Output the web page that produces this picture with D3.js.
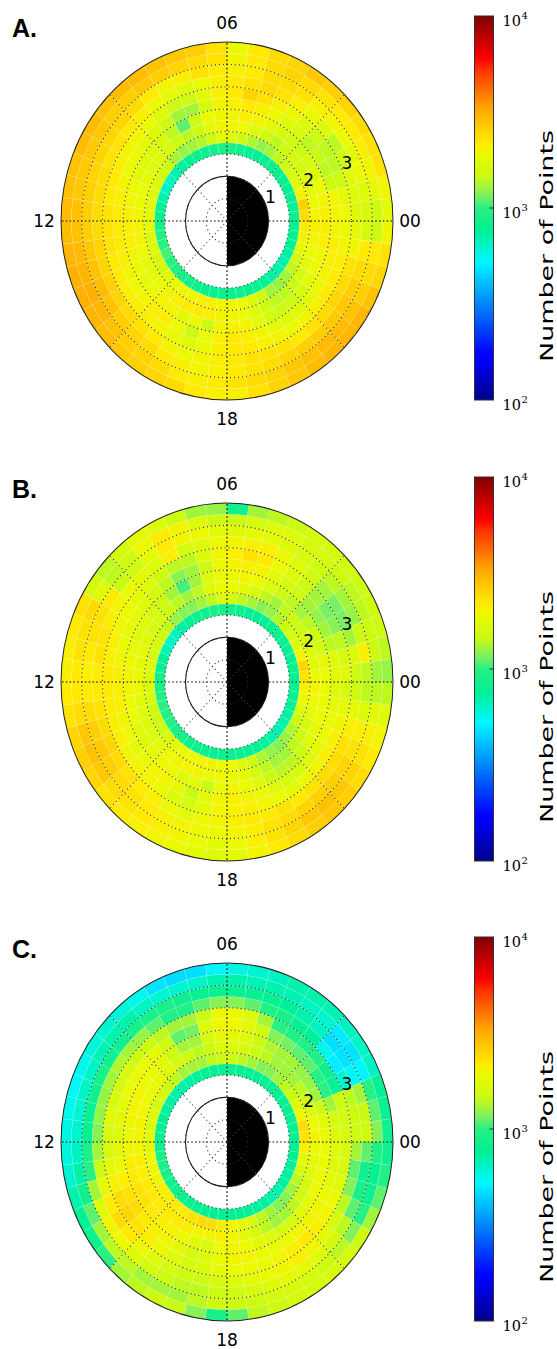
<!DOCTYPE html>
<html>
<head>
<meta charset="utf-8">
<style>
  body { margin: 0; background: #fff; }
  svg text { font-family: "DejaVu Sans", sans-serif; fill: #000; }
</style>
</head>
<body>
<svg id="chart" width="557" height="1349"></svg>
<script src="https://cdnjs.cloudflare.com/ajax/libs/d3/7.8.5/d3.min.js"></script>
<script>
// bins: 0.5 h of MLT, 0.25 Re in radius
const mltEdges = d3.range(0, 24.01, 0.5);
const radEdges = [1.5, 1.75, 2.0, 2.25, 2.5, 2.75, 3.0, 3.25, 3.5, 3.75, 4.0];
const mltTicks = [0, 6, 12, 18];
const mltLabels = ["00", "06", "12", "18"];
const radTicks = [1, 2, 3];
const gridRadii = [0.5, 1, 1.5, 2, 2.5, 3, 3.5];
const cbarExp = [2, 3, 4];

// counts per cell, one array per ring (inner -> outer), 48 MLT sectors starting at 00 MLT
const aRing0 = [820,800,800,780,800,820,820,800,780,760,850,900,900,880,850,820,780,740,700,650,640,700,780,820,880,950,1000,1050,1000,950,900,880,860,820,800,800,800,820,800,780,760,720,700,700,720,760,800,820];
const aRing1 = [2400,2600,2100,1700,1600,1500,1400,1300,1250,1350,1500,1700,1800,1500,1350,1300,1250,1300,1500,1600,1700,1700,1800,1800,1800,1700,1700,1600,1600,1700,1900,2000,2000,2100,2100,2000,2000,1900,1700,1500,1300,1250,1300,1400,1600,1800,2000,2200];
const aRing2 = [2000,1900,1800,1700,1600,1600,1500,1400,1500,1700,1900,2000,2000,1800,1500,1400,1500,1600,1700,1700,1800,1900,1900,2000,2000,2000,1900,1800,1800,1900,2000,2100,2200,2200,2100,2000,2000,1900,1700,1500,1400,1400,1500,1600,1800,1900,2000,2100];
const aRing3 = [2100,2000,1900,1700,1600,1500,1500,1600,1800,2000,2100,2000,2000,1900,1500,1100,1400,1600,1700,1700,1800,1900,2000,2100,2100,2100,2000,1900,1800,1900,2000,2000,1800,1900,1500,2000,2100,2000,1800,1600,1500,1500,1600,1800,1900,2000,2100,2100];
const aRing4 = [2000,2000,1500,1400,1450,1400,1600,1700,1900,2100,2200,2100,2000,1600,1300,1300,1500,1700,1800,1900,1900,2000,2100,2200,2200,2200,2100,2000,1900,2000,2100,2100,1900,1500,1900,2100,2200,2100,2000,1800,1700,1700,1800,1900,2000,2100,2100,2000];
const aRing5 = [1900,1800,1500,1400,1400,1500,1700,1900,2100,2300,2500,2200,2100,1800,1500,1500,1700,1900,2000,2000,2100,2200,2200,2300,2300,2300,2200,2200,2100,2100,2100,2000,1800,1700,1900,2100,2200,2200,2100,2000,1900,2000,2100,2200,2200,2100,2000,1900];
const aRing6 = [1700,1700,1700,1500,1400,1700,1900,2100,2300,2400,2300,2200,2100,1900,1700,1800,1900,2100,2200,2300,2300,2400,2400,2400,2400,2500,2500,2600,2500,2400,2300,2200,2000,1900,2000,2100,2200,2300,2300,2300,2200,2300,2400,2500,2400,2300,2000,1800];
const aRing7 = [1600,1700,1900,1800,1900,2000,2100,2300,2400,2400,2200,2100,2200,2300,2100,2000,2200,2400,2500,2500,2500,2500,2600,2600,2600,2700,2800,2900,2800,2600,2500,2400,2200,2100,2000,2100,2200,2300,2400,2500,2600,2600,2700,2700,2600,2400,2200,1600];
const aRing8 = [1500,1800,2000,2100,2200,2200,2300,2400,2500,2400,2200,2000,2300,2400,2500,2600,2700,2600,2600,2700,2700,2700,2700,2800,2800,2900,3000,3100,3000,2800,2600,2500,2400,2200,2100,2200,2300,2400,2500,2700,2800,2900,2900,2800,2600,2400,2200,1500];
const aRing9 = [1800,2000,2300,2300,2400,2500,2600,2700,2500,2400,2200,1900,2300,2600,2700,2800,2900,2900,2800,2900,2900,2800,2800,2900,2900,3000,3100,3100,3000,2900,2700,2600,2500,2400,2200,2100,2100,2300,2500,2700,2900,3000,3000,3000,2800,2500,2300,2000];

const bRing0 = [820,800,800,780,800,820,800,780,760,760,820,880,900,880,850,820,780,720,660,640,680,740,800,840,900,960,1000,980,950,900,880,860,840,820,800,800,800,800,780,760,740,700,690,700,720,760,800,820];
const bRing1 = [2300,2500,2000,1700,1600,1500,1350,1250,1200,1300,1400,1600,1700,1400,1300,1200,1200,1250,1400,1500,1600,1600,1700,1700,1700,1600,1500,1500,1500,1600,1800,1900,1900,2000,2000,1900,1900,1700,1500,1350,1250,1200,1250,1350,1500,1700,1900,2100];
const bRing2 = [1900,1800,1700,1600,1500,1500,1400,1300,1400,1600,1800,1900,1900,1700,1400,1300,1400,1500,1600,1600,1700,1800,1800,1900,1900,1800,1700,1700,1700,1800,1900,2000,2000,2000,1900,1900,1900,1800,1600,1400,1300,1300,1400,1500,1600,1800,1900,2000];
const bRing3 = [1900,1800,1600,1500,1400,1300,1400,1500,1700,1900,2000,1900,1900,1700,1300,1050,1300,1500,1600,1700,1700,1800,1900,2000,2000,1900,1900,1800,1700,1800,1900,1900,1700,1800,1450,1900,2000,1900,1700,1500,1400,1400,1500,1700,1800,1900,1900,1900];
const bRing4 = [1800,1700,1400,1300,1250,1300,1500,1600,1800,2000,2100,2000,1900,1500,1300,1200,1400,1600,1700,1800,1800,1900,2000,2100,2100,2100,2000,1900,1800,1900,2000,2000,1800,1450,1800,2000,2100,2000,1900,1700,1600,1600,1700,1800,1900,1900,1800,1700];
const bRing5 = [1700,1600,1400,1200,1150,1300,1500,1700,1900,2200,2300,2100,2000,1700,1400,1400,1500,1700,1800,1900,2000,2100,2100,2200,2200,2200,2100,2100,2000,2000,2000,1900,1700,1600,1800,2000,2100,2100,2000,1900,1800,1900,2000,2100,2100,2000,1800,1600];
const bRing6 = [1500,1700,1300,1150,1150,1300,1500,1700,1900,2100,2100,2000,1900,1700,1600,2100,1700,1800,1900,2000,2100,2300,2300,2200,2200,2300,2400,2500,2400,2300,2200,2100,1900,1800,1900,2000,2100,2200,2200,2300,2200,2300,2400,2400,2300,2100,1800,1500];
const bRing7 = [1400,2100,1500,1250,1300,1400,1500,1600,1700,1800,1800,1700,1800,1900,2000,2200,1800,1500,1500,2200,2300,2300,2200,2100,2200,2400,2600,2700,2600,2400,2300,2200,2100,2000,1900,1900,2000,2100,2300,2400,2500,2600,2600,2500,2300,2100,1700,1400];
const bRing8 = [1300,1500,1500,1400,1400,1500,1600,1600,1700,1700,1600,1500,1500,1700,2000,2200,1900,1500,1400,1700,2400,2300,2300,2200,2200,2400,2700,2800,2700,2400,2300,2200,2100,2000,1900,1800,1900,2100,2300,2500,2700,2800,2700,2500,2300,2100,1800,1400];
const bRing9 = [1250,1400,1500,1500,1500,1550,1600,1600,1500,1400,1300,850,1250,1300,1500,1700,1800,1600,1400,1600,2300,2200,2100,2100,2200,2300,2500,2600,2500,2300,2200,2100,2000,1900,1800,1700,1800,2000,2200,2400,2600,2700,2600,2400,2200,2000,1700,1400];

const cRing0 = [800,800,780,780,780,800,800,780,760,760,780,800,800,780,760,740,720,700,700,720,740,760,780,800,850,900,900,880,860,840,820,800,800,780,780,780,780,760,760,740,720,700,700,720,740,760,780,800];
const cRing1 = [2300,2400,2000,1700,1500,1400,1300,1200,1200,1300,1400,1500,1500,1400,1300,1300,1300,1400,1500,1600,1600,1700,1700,1800,1800,1900,2000,2000,2100,2100,2200,2200,2300,2400,2400,2100,2000,1800,1600,1400,1300,1200,1200,1300,1400,1600,1800,2100];
const cRing2 = [2000,1900,1700,1500,1400,1300,1300,1300,1400,1500,1600,1700,1700,1500,1400,1500,1600,1700,1800,1900,1900,2000,2000,2000,2000,2100,2100,2200,2200,2200,2200,2200,2100,2000,2000,2100,2000,1800,1600,1400,1300,1300,1400,1500,1600,1700,1800,1900];
const cRing3 = [1900,1800,1500,1300,1250,1250,1300,1300,1350,1500,1700,1800,1800,1600,1300,1300,1500,1800,1900,1900,2000,2000,2000,1900,2000,2100,2200,2300,2300,2200,2100,2000,1900,1700,1600,1900,2000,1900,1800,1700,1600,1600,1700,1800,1900,1900,1900,1900];
const cRing4 = [1700,1600,1300,1000,1000,1100,1100,1150,1200,1500,1800,2000,2000,1700,1150,1100,1500,1800,1900,1900,1900,1800,1800,1700,1800,1900,2100,2300,2400,2200,2100,2000,1800,1600,1700,1900,2000,2000,1900,1900,1900,2000,2000,2000,1900,1800,1700,1700];
const cRing5 = [1600,1550,1500,800,850,950,950,950,1000,1300,1700,1900,1900,1500,1300,1300,1400,1500,1500,1600,1600,1600,1700,1600,1600,1800,2100,2400,2500,2300,2100,1900,1700,1600,1700,1800,1900,1900,1900,2000,2100,2200,2100,2000,1900,1700,1600,1600];
const cRing6 = [1500,1500,1400,620,500,560,750,800,900,950,1100,1200,1200,1100,950,950,1100,1250,1300,1350,1300,1250,1250,1200,1300,1500,1800,2200,2400,2200,1900,1700,1600,1500,1500,1600,1700,1800,1900,2000,2100,2000,1800,1600,1400,1200,1100,1300];
const cRing7 = [1500,1450,1300,550,480,470,650,700,750,800,800,800,800,800,850,900,900,900,850,850,900,850,800,800,900,1000,1300,1700,2000,1900,1700,1600,1500,1400,1400,1500,1500,1600,1700,1800,1800,1700,1600,1400,1100,900,850,1100];
const cRing8 = [1200,1100,1000,520,480,500,620,650,680,700,680,700,680,640,620,620,650,700,700,680,650,640,620,620,650,720,850,1100,1300,1400,1400,1300,1300,1300,1400,1500,1500,1500,1600,1600,1600,1500,1400,1200,1000,850,800,950];
const cRing9 = [850,820,780,650,640,660,680,700,700,660,620,580,520,470,460,480,560,600,620,600,560,540,560,580,590,620,700,780,850,1000,1300,1400,1500,1450,1200,900,1100,1400,1500,1600,1600,1650,1600,1500,1300,1100,950,850];

const panels = [
  { letter: "A.", dy: 0,   rings: [aRing0, aRing1, aRing2, aRing3, aRing4, aRing5, aRing6, aRing7, aRing8, aRing9] },
  { letter: "B.", dy: 461, rings: [bRing0, bRing1, bRing2, bRing3, bRing4, bRing5, bRing6, bRing7, bRing8, bRing9] },
  { letter: "C.", dy: 921, rings: [cRing0, cRing1, cRing2, cRing3, cRing4, cRing5, cRing6, cRing7, cRing8, cRing9] }
];

// jet-like colour map, as seen on the colour bar
const cmapPos = [0, 0.11, 0.125, 0.36, 0.44, 0.50, 0.53, 0.58, 0.64, 0.67, 0.71, 0.76, 0.86, 0.89, 1];
const cmapCol = ["#00008c", "#0000ff", "#0005ff", "#00f8ff", "#00f096", "#28f082", "#78f064", "#c8fa14", "#ebfa00", "#ffeb00", "#ffcd00", "#ffa500", "#ff3200", "#ff0000", "#800000"];
const cmap = d3.scaleLinear().domain(cmapPos).range(cmapCol).interpolate(d3.interpolateRgb);
const logT = d3.scaleLog().domain([100, 10000]).range([0, 1]).clamp(true);
const color = v => cmap(logT(v));

const svg = d3.select("#chart");
const cx = 227, cy = 221;
const rScale = d3.scaleLinear().domain([0, 4]).range([0, 166]);
const ky = 179 / 166;
const ang = d3.scaleLinear().domain([0, 24]).range([Math.PI / 2, Math.PI / 2 - 2 * Math.PI]);
const arc = d3.arc();

// colour bar gradient
const defs = svg.append("defs");
const grad = defs.append("linearGradient").attr("id", "cbar")
  .attr("x1", 0).attr("y1", 1).attr("x2", 0).attr("y2", 0);
grad.selectAll("stop").data(d3.range(0, 1.0001, 0.01)).enter().append("stop")
  .attr("offset", d => d).attr("stop-color", d => cmap(d));

panels.forEach(p => {
  const g = svg.append("g").attr("transform", `translate(0,${p.dy})`);

  g.append("text").attr("x", 12).attr("y", 37)
    .style("font-family", "'Liberation Sans', Arial, sans-serif")
    .style("font-weight", "bold").style("font-size", "25px")
    .text(p.letter);

  const polar = g.append("g").attr("transform", `translate(${cx},${cy}) scale(1,${ky})`);

  // cells
  p.rings.forEach((ring, i) => {
    polar.append("g").selectAll("path").data(ring).enter().append("path")
      .attr("d", (v, k) => arc({
        innerRadius: rScale(radEdges[i]), outerRadius: rScale(radEdges[i + 1]),
        startAngle: ang(mltEdges[k + 1]), endAngle: ang(mltEdges[k])
      }))
      .attr("fill", v => color(v))
      .attr("stroke", "rgba(255,255,255,0.22)")
      .attr("stroke-width", 0.5);
  });

  // earth: day side white, night side black
  polar.append("path").attr("d", arc({ innerRadius: 0, outerRadius: rScale(1), startAngle: Math.PI, endAngle: 2 * Math.PI }))
    .attr("fill", "#fff");
  polar.append("path").attr("d", arc({ innerRadius: 0, outerRadius: rScale(1), startAngle: 0, endAngle: Math.PI }))
    .attr("fill", "#000");
  polar.append("circle").attr("r", rScale(1)).attr("fill", "none")
    .attr("stroke", "#111").attr("stroke-width", 1);

  // grid
  polar.selectAll("circle.grid").data(gridRadii).enter().append("circle")
    .attr("class", "grid").attr("r", d => rScale(d)).attr("fill", "none")
    .attr("stroke", "#333").attr("stroke-width", 1).attr("stroke-dasharray", "1.1,2.9");
  polar.selectAll("line.spoke").data(d3.range(0, 24, 3)).enter().append("line")
    .attr("class", "spoke")
    .attr("x1", 0).attr("y1", 0)
    .attr("x2", d => rScale(4) * Math.cos(ang(d) - Math.PI / 2))
    .attr("y2", d => rScale(4) * Math.sin(ang(d) - Math.PI / 2))
    .attr("stroke", d => d % 6 === 0 ? "#000" : "#444")
    .attr("stroke-width", d => d % 6 === 0 ? 1.1 : 1)
    .attr("stroke-dasharray", d => d % 6 === 0 ? "1.6,2.2" : "1.1,2.9");

  polar.append("circle").attr("r", rScale(4)).attr("fill", "none")
    .attr("stroke", "#222").attr("stroke-width", 1);

  // MLT labels
  g.selectAll("text.mlt").data(mltTicks).enter().append("text")
    .attr("class", "mlt")
    .attr("x", d => cx + (rScale(4) + 17) * Math.cos(d / 24 * 2 * Math.PI))
    .attr("y", d => cy - (rScale(4) * ky + 19) * Math.sin(d / 24 * 2 * Math.PI))
    .attr("text-anchor", "middle").attr("dominant-baseline", "central")
    .style("font-size", "17px")
    .text((d, i) => mltLabels[i]);

  // radial labels at 22.5 deg
  const la = 22.5 * Math.PI / 180;
  g.selectAll("text.rad").data(radTicks).enter().append("text")
    .attr("class", "rad")
    .attr("x", d => cx + rScale(d) * Math.cos(la) + 5)
    .attr("y", d => cy - rScale(d) * ky * Math.sin(la) - 7)
    .attr("text-anchor", "middle").attr("dominant-baseline", "central")
    .style("font-size", "17px")
    .text(d => d);

  // colour bar
  const cbX = 474.5, cbW = 19;
  const cbY = d3.scaleLinear().domain([2, 4]).range([400, 16]);
  g.append("rect").attr("x", cbX).attr("y", cbY(4)).attr("width", cbW).attr("height", cbY(2) - cbY(4))
    .attr("fill", "url(#cbar)").attr("stroke", "#333").attr("stroke-width", 1);
  g.append("line").attr("x1", cbX + cbW - 4).attr("x2", cbX + cbW)
    .attr("y1", cbY(3)).attr("y2", cbY(3)).attr("stroke", "#333").attr("stroke-width", 1);
  const tl = g.selectAll("g.cbt").data(cbarExp).enter().append("g").attr("class", "cbt");
  tl.append("text").attr("x", 502.5).attr("y", d => cbY(d) + 10)
    .style("font-family", "'DejaVu Serif', serif").style("font-size", "14.5px")
    .text("10");
  tl.append("text").attr("x", 521.5).attr("y", d => cbY(d) + 3)
    .style("font-family", "'DejaVu Serif', serif").style("font-size", "10px")
    .text(d => d);
  g.append("text")
    .attr("transform", "translate(553,246) rotate(-90)")
    .attr("text-anchor", "middle")
    .attr("textLength", 232).attr("lengthAdjust", "spacingAndGlyphs")
    .style("font-size", "17px")
    .text("Number of Points");
});
</script>
</body>
</html>
